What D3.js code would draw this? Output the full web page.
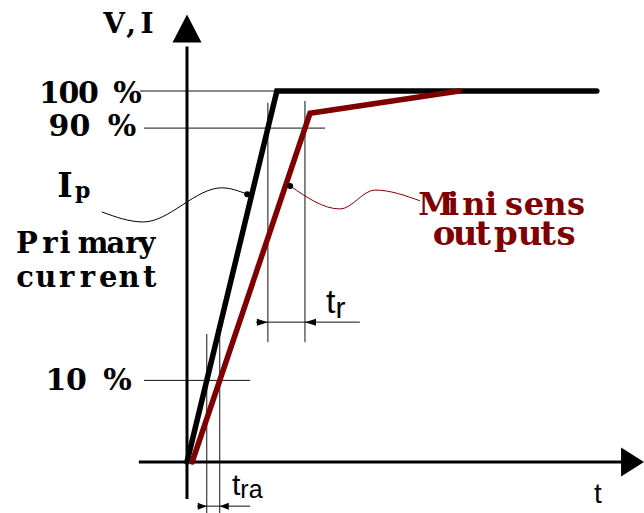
<!DOCTYPE html>
<html>
<head>
<meta charset="utf-8">
<script src="https://cdn.jsdelivr.net/npm/d3@7"></script>
<style>
  body { margin: 0; background: #fff; }
  svg { display: block; }
</style>
</head>
<body>
<svg id="chart" width="644" height="513"></svg>
<script>
// step response: time (arbitrary units) vs level (% of final value)
var primaryT = [0, 2.09, 9.53];
var primaryV = [0, 100, 100];
var outputT = [0.12, 2.86, 6.33];
var outputV = [0, 94, 100];

// reference levels (drawing is schematic, the "10 %" line sits higher)
var levels = [100, 90, 22];
var levelLabels = ["100 %", "90 %", "10 %"];
var levelFrom = [-1.09, -1.0, -1.0];
var levelTo = [2.09, 3.21, 1.47];

// wavy leader lines from the labels to the curves
var ipLeaderT = [-1.98, -1.02, 0.81, 1.40];
var ipLeaderV = [67.4, 64.7, 73.9, 72.2];
var outLeaderT = [2.40, 3.56, 4.37, 5.42];
var outLeaderV = [74.4, 68.2, 73.3, 70.4];

var RED = "#800000";
var serif = "'DejaVu Serif', 'Liberation Serif', serif";
var sans = "'Liberation Sans', Arial, sans-serif";

var svg = d3.select("#chart");
var x = d3.scaleLinear().domain([0, 10]).range([187, 617]);
var y = d3.scaleLinear().domain([0, 100]).range([462, 91]);

// time where a polyline reaches a level
function crossAt(ts, vs, level) {
  for (var i = 0; i < ts.length - 1; i++) {
    if (vs[i] <= level && vs[i + 1] >= level) {
      return ts[i] + (ts[i + 1] - ts[i]) * (level - vs[i]) / (vs[i + 1] - vs[i]);
    }
  }
  return ts[ts.length - 1];
}

function zip(ts, vs) { return ts.map((t, i) => [t, vs[i]]); }

function hline(g, t0, t1, v, w) {
  g.append("line")
    .attr("x1", x(t0)).attr("x2", x(t1))
    .attr("y1", y(v)).attr("y2", y(v))
    .attr("stroke", "#111").attr("stroke-width", w || 1);
}
function vline(g, t, v0, v1, w) {
  g.append("line")
    .attr("x1", x(t)).attr("x2", x(t))
    .attr("y1", y(v0)).attr("y2", y(v1))
    .attr("stroke", "#111").attr("stroke-width", w || 1);
}

// filled triangle, tip at (px,py), pointing along (dx,dy)
function arrowHead(g, px, py, dx, dy, len, half) {
  var nx = -dy, ny = dx;
  var bx = px - dx * len, by = py - dy * len;
  g.append("path")
    .attr("d", `M${px},${py}L${bx + nx * half},${by + ny * half}L${bx - nx * half},${by - ny * half}Z`)
    .attr("fill", "#000");
}

// one glyph per cell, like the fixed-pitch original
function cellText(g, str, centers, baseline, size, fill) {
  g.append("text")
    .attr("x", centers.join(" "))
    .attr("y", baseline)
    .attr("text-anchor", "middle")
    .style("font-family", serif)
    .style("font-weight", "bold")
    .style("font-size", size + "px")
    .attr("fill", fill || "#000")
    .text(str);
}
function pitch(str, start, step) {
  return str.split("").map((c, i) => start + i * step);
}

var guides = svg.append("g");

// level guide lines
levels.forEach(function(v, i) {
  hline(guides, levelFrom[i], levelTo[i], v);
});

// rise time t_r (90 % crossings)
var tr0 = crossAt(primaryT, primaryV, 90);
var tr1 = crossAt(outputT, outputV, 90);
vline(guides, tr0, 96.8, 32.3);
vline(guides, tr1, 97.3, 32.3);
var trV = 37.7;
hline(guides, tr0 - 0.28, 4.02, trV);
arrowHead(guides, x(tr0), y(trV), 1, 0, 11, 3.5);
arrowHead(guides, x(tr1), y(trV), -1, 0, 11, 3.5);

// reaction time t_ra (low level crossings)
var ra0 = crossAt(primaryT, primaryV, levels[2]);
var ra1 = crossAt(outputT, outputV, levels[2]);
vline(guides, ra0, 34.5, -13.9);
vline(guides, ra1, 34.5, -13.9);
var raV = -11.9;
hline(guides, ra0 - 0.22, 1.47, raV);
arrowHead(guides, x(ra0), y(raV), 1, 0, 9, 3.5);
arrowHead(guides, x(ra1), y(raV), -1, 0, 9, 3.5);

// axes with arrow heads
var axes = svg.append("g");
axes.append("line")
  .attr("x1", x(0)).attr("x2", x(0))
  .attr("y1", y(-10)).attr("y2", y(112))
  .attr("stroke", "#000").attr("stroke-width", 3);
arrowHead(axes, x(0), y(120.6), 0, -1, 28, 14.5);
axes.append("line")
  .attr("x1", x(-1.12)).attr("x2", x(10.2))
  .attr("y1", y(0)).attr("y2", y(0))
  .attr("stroke", "#000").attr("stroke-width", 3);
arrowHead(axes, x(10.63), y(0), 1, 0, 23, 14.5);

// curves
var line = d3.line().x(d => x(d[0])).y(d => y(d[1]));
svg.append("path")
  .attr("d", line(zip(primaryT, primaryV)))
  .attr("fill", "none").attr("stroke", "#000")
  .attr("stroke-width", 5.5).attr("stroke-linecap", "round");
svg.append("path")
  .attr("d", line(zip(outputT, outputV)))
  .attr("fill", "none").attr("stroke", RED)
  .attr("stroke-width", 5.5).attr("stroke-linecap", "round");

// leaders
var wavy = d3.line().x(d => x(d[0])).y(d => y(d[1])).curve(d3.curveMonotoneX);
svg.append("path")
  .attr("d", wavy(zip(ipLeaderT, ipLeaderV)))
  .attr("fill", "none").attr("stroke", "#000").attr("stroke-width", 1);
svg.append("circle")
  .attr("cx", x(ipLeaderT[3])).attr("cy", y(ipLeaderV[3])).attr("r", 3).attr("fill", "#000");
svg.append("path")
  .attr("d", wavy(zip(outLeaderT, outLeaderV)))
  .attr("fill", "none").attr("stroke", RED).attr("stroke-width", 1);
svg.append("circle")
  .attr("cx", x(outLeaderT[0])).attr("cy", y(outLeaderV[0])).attr("r", 3).attr("fill", "#000");

// text
var txt = svg.append("g");
cellText(txt, "V,I", [114, 131, 147], 33, 28);
cellText(txt, levelLabels[0], pitch(levelLabels[0], 49.5, 19.5), y(levels[0]) + 12, 30);
cellText(txt, levelLabels[1], pitch(levelLabels[1], 59, 21), y(levels[1]) + 8, 30);
cellText(txt, levelLabels[2], pitch(levelLabels[2], 56, 20.5), y(levels[2]) + 10, 30);
cellText(txt, "I", [65], 197, 33);
txt.append("text").attr("x", 75).attr("y", 198)
  .style("font-family", serif).style("font-weight", "bold").style("font-size", "22px")
  .text("p");
cellText(txt, "Primary", [27, 50, 65, 93, 116, 133, 147], 253, 29);
cellText(txt, "current", pitch("current", 25, 20.8), 287, 29);
cellText(txt, "Minisens", [436, 453, 474, 491, 514, 534, 555, 576], 215, 32, RED);
cellText(txt, "outputs", [444, 465, 483, 506, 530, 548, 566], 245, 34, RED);

function subLabel(g, main, sub, x0, base, size, subSize, subDy) {
  var t = g.append("text").attr("x", x0).attr("y", base)
    .style("font-family", sans).style("font-size", size + "px").attr("fill", "#000");
  t.append("tspan").text(main);
  if (sub) t.append("tspan").attr("dy", subDy).style("font-size", subSize + "px").text(sub);
}
subLabel(txt, "t", "r", 326, 313, 34, 30, 5);
subLabel(txt, "t", "ra", 232, 495, 30, 25, 3);
subLabel(txt, "t", null, 594, 503, 28);
</script>
</body>
</html>
